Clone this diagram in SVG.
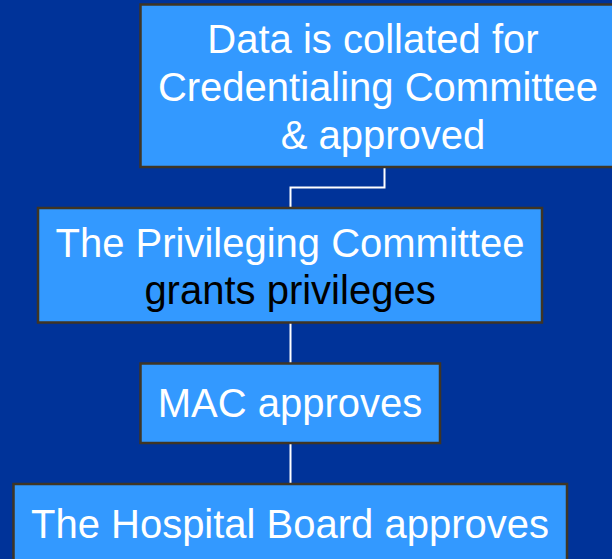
<svg xmlns="http://www.w3.org/2000/svg" width="612" height="559" viewBox="0 0 612 559">
  <style>
    .box { fill: #3399FF; stroke: #3F3524; stroke-width: 2.5; }
    .label { font-family: "Liberation Sans", Arial, sans-serif; font-size: 40px; text-anchor: middle; fill: #FFFFFF; }
    .dark { fill: #000000; }
    .link { fill: none; stroke: #FFFFFF; stroke-width: 2; }
  </style>
  <rect width="612" height="559" fill="#003399"/>

  <g id="connectors">
    <polyline class="link" points="384.5,168 384.5,187.5 290.5,187.5 290.5,207"/>
    <line class="link" x1="290.5" y1="323" x2="290.5" y2="363"/>
    <line class="link" x1="290.5" y1="444" x2="290.5" y2="484"/>
  </g>

  <g id="collate">
    <rect class="box" x="140.5" y="4.5" width="480" height="162.5"/>
    <text class="label" x="373" y="53">Data is collated for</text>
    <text class="label" x="378" y="101">Credentialing Committee</text>
    <text class="label" x="383" y="149">&amp; approved</text>
  </g>

  <g id="privileging">
    <rect class="box" x="38" y="208" width="504" height="114.5"/>
    <text class="label" x="290" y="257">The Privileging Committee</text>
    <text class="label dark" x="290" y="304">grants privileges</text>
  </g>

  <g id="mac">
    <rect class="box" x="140.5" y="363.5" width="299.5" height="79.5"/>
    <text class="label" x="290" y="417">MAC approves</text>
  </g>

  <g id="board">
    <rect class="box" x="13.5" y="484" width="553.5" height="90"/>
    <text class="label" x="290" y="538">The Hospital Board approves</text>
  </g>
</svg>
